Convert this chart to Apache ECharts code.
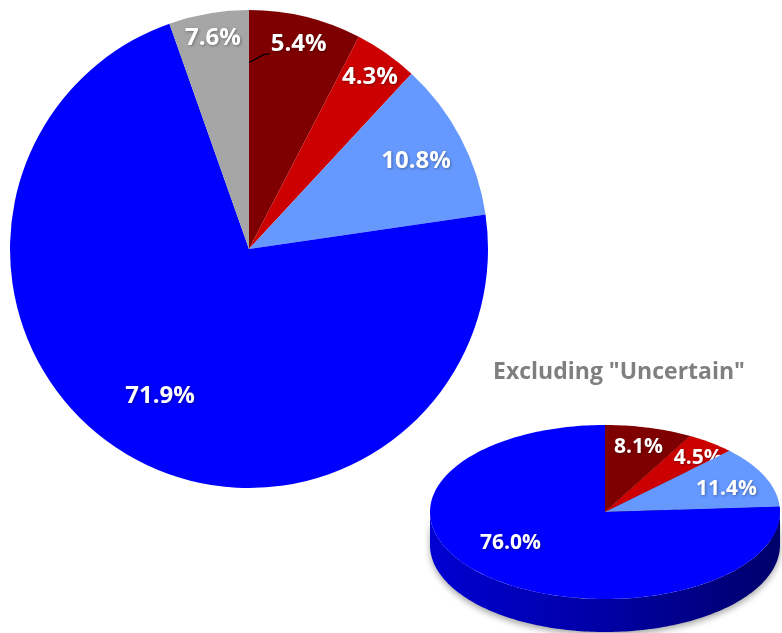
<!DOCTYPE html>
<html>
<head>
<meta charset="utf-8">
<script src="https://cdn.jsdelivr.net/npm/echarts@6/dist/echarts.min.js"></script>
<style>
  html, body { margin: 0; padding: 0; background: #fff; }
  #chart { width: 782px; height: 633px; }
</style>
</head>
<body>
<div id="chart"></div>
<script>
// slices, clockwise from 12 o'clock
const categories = ['Dark red', 'Red', 'Light blue', 'Blue', 'Uncertain'];
const allValues = [7.6, 4.3, 10.8, 71.9, 5.4];
// label text as printed in the reference (the first and last labels sit on each other's slice)
const allLabels = ['5.4%', '4.3%', '10.8%', '71.9%', '7.6%'];

// second pie, without "Uncertain"
const exclCategories = ['Dark red', 'Red', 'Light blue', 'Blue'];
const exclValues = [8.1, 4.5, 11.4, 76.0];
const exclLabels = ['8.1%', '4.5%', '11.4%', '76.0%'];

const sliceColors = ['#7f0000', '#cc0000', '#6699ff', '#0000ff', '#a6a6a6'];
const faceColors = ['#4a0000', '#7a0000', '#3d4f78', '#00008a'];

const labelFont = "'Open Sans', 'Noto Sans', sans-serif";

// big pie geometry
const bigPie = { cx: 249, cy: 249, r: 239 };
const bigLabelRadius = [0.88, 0.88, 0.79, 0.72, 0.895];

// tilted pie geometry
const pie3d = { cx: 605, cy: 512, rx: 175, ry: 87, depth: 33 };
const pie3dLabelPos = [[0.76, 0.77], [0.88, 0.78], [0.76, 0.65], [0.79, 0.49]];

const sum = arr => arr.reduce((a, b) => a + b, 0);

function bigLabelPos(i) {
  const mid = (sum(allValues.slice(0, i)) + allValues[i] / 2) / sum(allValues) * Math.PI * 2;
  const r = bigPie.r * bigLabelRadius[i];
  return [bigPie.cx + r * Math.sin(mid), bigPie.cy - r * Math.cos(mid)];
}

function ellipsePt(t, dy) {
  return [pie3d.cx + pie3d.rx * Math.sin(t), pie3d.cy - pie3d.ry * Math.cos(t) + (dy || 0)];
}
function arcPts(a0, a1, dy) {
  const n = Math.max(2, Math.ceil((a1 - a0) / 0.02));
  const pts = [];
  for (let k = 0; k <= n; k++) pts.push(ellipsePt(a0 + (a1 - a0) * k / n, dy));
  return pts;
}

const chart = echarts.init(document.getElementById('chart'));

// short leader line from the first label back to the top edge of the slice
const lead = bigLabelPos(0);

chart.setOption({
  animation: false,
  backgroundColor: '#fff',
  title: {
    text: 'Excluding "Uncertain"',
    left: 614,
    top: 356,
    textAlign: 'center',
    textStyle: {
      color: '#7f7f7f',
      fontFamily: labelFont,
      fontWeight: 'bold',
      fontSize: 23
    }
  },
  graphic: [{
    type: 'polyline',
    silent: true,
    z: 10,
    shape: { points: [[bigPie.cx, bigPie.cy - bigPie.r * 0.78], [lead[0] - 35, lead[1] + 10], [lead[0] - 29, lead[1] + 9]] },
    style: { stroke: '#000', lineWidth: 1.2, fill: null }
  }],
  series: [
    {
      type: 'pie',
      silent: true,
      center: [bigPie.cx, bigPie.cy],
      radius: bigPie.r,
      startAngle: 90,
      clockwise: true,
      avoidLabelOverlap: false,
      data: categories.map((name, i) => ({
        name: name,
        value: allValues[i],
        itemStyle: { color: sliceColors[i] }
      })),
      label: {
        show: true,
        position: 'inside',
        formatter: p => allLabels[p.dataIndex],
        color: '#fff',
        fontFamily: labelFont,
        fontWeight: 'bold',
        fontSize: 24,
        textShadowColor: 'rgba(0,0,0,0.35)',
        textShadowBlur: 3,
        textShadowOffsetX: 1,
        textShadowOffsetY: 1
      },
      labelLine: { show: false },
      labelLayout: function (params) {
        const p = bigLabelPos(params.dataIndex);
        return { x: p[0], y: p[1], align: 'center', verticalAlign: 'middle' };
      }
    },
    {
      type: 'custom',
      silent: true,
      coordinateSystem: 'none',
      data: exclCategories.map((name, i) => [i, exclValues[i]]),
      renderItem: function (params, api) {
        const i = params.dataIndex;
        const total = sum(exclValues);
        const a0 = sum(exclValues.slice(0, i)) / total * Math.PI * 2;
        const a1 = a0 + api.value(1) / total * Math.PI * 2;
        const d = pie3d.depth;
        const children = [];
        // cut face at the end of the slice, turned toward the viewer
        if (Math.sin(a1) > 0.001) {
          const e = ellipsePt(a1, 0);
          children.push({
            type: 'polygon',
            shape: { points: [[pie3d.cx, pie3d.cy], e, [e[0], e[1] + d], [pie3d.cx, pie3d.cy + d]] },
            style: { fill: faceColors[i] }
          });
        }
        // front wall
        const w0 = Math.max(a0, Math.PI / 2);
        const w1 = Math.min(a1, Math.PI * 1.5);
        if (w1 > w0) {
          const pts = arcPts(w0, w1, 0).concat(arcPts(w0, w1, d).reverse());
          children.push({
            type: 'polygon',
            shape: { points: pts },
            style: {
              fill: new echarts.graphic.LinearGradient(0, 0, 1, 0, [
                { offset: 0, color: '#0000d2' },
                { offset: 0.5, color: '#0000a4' },
                { offset: 1, color: '#00006a' }
              ]),
              shadowColor: 'rgba(0,0,0,0.35)',
              shadowBlur: 6,
              shadowOffsetY: 3
            }
          });
        }
        // top face
        children.push({
          type: 'polygon',
          shape: { points: [[pie3d.cx, pie3d.cy]].concat(arcPts(a0, a1, 0)) },
          style: { fill: sliceColors[i] }
        });
        // label
        const mid = (a0 + a1) / 2;
        const lp = pie3dLabelPos[i];
        children.push({
          type: 'text',
          x: pie3d.cx + pie3d.rx * lp[0] * Math.sin(mid),
          y: pie3d.cy - pie3d.ry * lp[1] * Math.cos(mid),
          style: {
            text: exclLabels[i],
            fill: '#fff',
            font: 'bold 21px ' + labelFont,
            align: 'center',
            verticalAlign: 'middle',
            textShadowColor: 'rgba(0,0,0,0.35)',
            textShadowBlur: 3,
            textShadowOffsetX: 1,
            textShadowOffsetY: 1
          }
        });
        return { type: 'group', children: children };
      }
    }
  ]
});
</script>
</body>
</html>
